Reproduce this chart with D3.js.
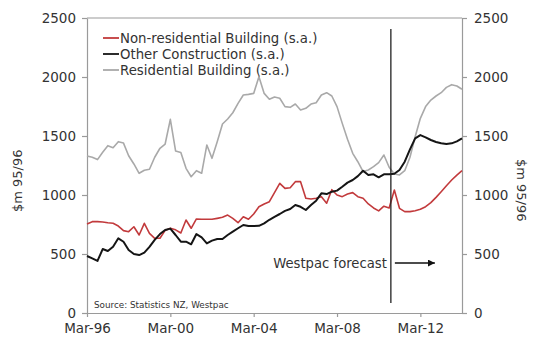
<!DOCTYPE html>
<html>
<head>
<meta charset="utf-8">
<script src="https://cdn.jsdelivr.net/npm/d3@7"></script>
<style>
  body { margin: 0; background: #fff; }
  svg { display: block; }
  text { font-family: "DejaVu Sans", sans-serif; fill: #333; }
</style>
</head>
<body>
<svg id="chart" width="535" height="338"></svg>
<script>
// Quarterly series, Mar-96 .. Mar-14, $m 95/96 (seasonally adjusted)
const firstQuarter = new Date(1996, 2, 1);
const axisStart = new Date(1996, 2, 1);
const axisEnd = new Date(2014, 2, 1);
const forecastStart = new Date(2010, 9, 1);

const nonResidential = [
  755, 774, 774, 771, 765, 760, 737, 698, 689, 731,
  661, 760, 675, 633, 633, 700, 718, 705, 678, 788,
  718, 797, 794, 794, 794, 802, 811, 830, 802, 765,
  816, 794, 839, 901, 924, 943, 1020, 1099, 1056, 1062,
  1113, 1113, 972, 966, 972, 986, 930, 1045, 1000, 986,
  1008, 1020, 986, 972, 924, 890, 865, 905, 890, 1042,
  887, 859, 859, 867, 879, 901, 935, 980, 1028, 1079,
  1127, 1169, 1206
];
const otherConstruction = [
  483, 463, 441, 542, 525, 562, 633, 604, 534, 500,
  491, 511, 560, 620, 669, 703, 715, 661, 604, 604,
  582, 669, 641, 590, 613, 627, 627, 661, 689, 718,
  746, 737, 737, 739, 760, 790, 815, 839, 865, 881,
  915, 900, 873, 915, 952, 1014, 1008, 1028, 1037, 1070,
  1105, 1127, 1160, 1205, 1169, 1175, 1150, 1175, 1175, 1180,
  1212, 1282, 1387, 1480, 1508, 1489, 1466, 1449, 1438, 1432,
  1438, 1455, 1480
];
const residential = [
  1330, 1320, 1300, 1362, 1418, 1400, 1452, 1440, 1333, 1263,
  1184, 1210, 1218, 1320, 1396, 1432, 1641, 1373, 1360, 1226,
  1155, 1206, 1184, 1424, 1311, 1452, 1602, 1644, 1697, 1777,
  1847, 1853, 1861, 2003, 1861, 1811, 1830, 1820, 1749, 1743,
  1771, 1720, 1735, 1771, 1782, 1847, 1867, 1839, 1749, 1607,
  1472, 1353, 1282, 1198, 1212, 1240, 1274, 1339, 1235, 1178,
  1170, 1206, 1320, 1494, 1650, 1749, 1805, 1839, 1867, 1912,
  1935, 1924, 1896
];

const seriesNames = [
  "Non-residential Building (s.a.)",
  "Other Construction (s.a.)",
  "Residential Building (s.a.)"
];
const seriesColors = ["#c23a3c", "#151515", "#a9a9a9"];
const seriesWidths = [1.6, 2, 1.6];

const yTicks = [0, 500, 1000, 1500, 2000, 2500];
const xTickLabels = ["Mar-96", "Mar-00", "Mar-04", "Mar-08", "Mar-12"];
const axisTitle = "$m 95/96";
const sourceNote = "Source: Statistics NZ, Westpac";
const forecastNote = "Westpac forecast";

const W = 535, H = 338;
const margin = { top: 18, right: 73, bottom: 25, left: 87 };
const svg = d3.select("#chart");

const parseTick = d3.timeParse("%b-%y");
const quarterDates = residential.map((_, i) => d3.timeMonth.offset(firstQuarter, 3 * i));

const x = d3.scaleTime().domain([axisStart, axisEnd]).range([margin.left, W - margin.right]);
const y = d3.scaleLinear().domain([0, 2500]).range([H - margin.bottom, margin.top]);

const axisColor = "#9a9a9a";
const tickFont = "13.5px";

// frame top edge
svg.append("line")
  .attr("x1", margin.left).attr("x2", W - margin.right)
  .attr("y1", margin.top).attr("y2", margin.top)
  .attr("stroke", axisColor).attr("stroke-width", 1.2);

function styleAxis(g) {
  g.selectAll("path.domain").attr("stroke", axisColor).attr("stroke-width", 1.2);
  g.selectAll(".tick line").attr("stroke", axisColor).attr("stroke-width", 1.2);
  g.selectAll(".tick text").attr("fill", "#333")
    .style("font-family", '"DejaVu Sans", sans-serif').style("font-size", tickFont);
}

svg.append("g")
  .attr("transform", `translate(${margin.left},0)`)
  .call(d3.axisLeft(y).tickValues(yTicks).tickFormat(d3.format("d"))
    .tickSize(5).tickSizeOuter(0).tickPadding(6))
  .call(styleAxis);

svg.append("g")
  .attr("transform", `translate(${W - margin.right},0)`)
  .call(d3.axisRight(y).tickValues(yTicks).tickFormat(d3.format("d"))
    .tickSize(5).tickSizeOuter(0).tickPadding(7))
  .call(styleAxis);

svg.append("g")
  .attr("transform", `translate(0,${H - margin.bottom})`)
  .call(d3.axisBottom(x)
    .tickValues(xTickLabels.map(parseTick))
    .tickFormat(d3.timeFormat("%b-%y"))
    .tickSize(4).tickSizeOuter(0).tickPadding(6))
  .call(styleAxis);

// axis titles
svg.append("text")
  .attr("transform", `translate(22,${y(1120)}) rotate(-90)`)
  .attr("text-anchor", "middle")
  .style("font-size", "13px")
  .text(axisTitle);
svg.append("text")
  .attr("transform", `translate(517,${y(1040)}) rotate(90)`)
  .attr("text-anchor", "middle")
  .style("font-size", "13px")
  .text(axisTitle);

// series
const allSeries = [nonResidential, otherConstruction, residential];
const line = d3.line()
  .x((d, i) => x(quarterDates[i]))
  .y(d => y(d));

// grey underneath, then red, then black on top
[2, 0, 1].forEach(k => {
  svg.append("path")
    .datum(allSeries[k])
    .attr("fill", "none")
    .attr("stroke", seriesColors[k])
    .attr("stroke-width", seriesWidths[k])
    .attr("stroke-linejoin", "round")
    .attr("d", line);
});

// forecast divider and note
const fx = x(forecastStart);
svg.append("line")
  .attr("x1", fx).attr("x2", fx)
  .attr("y1", 29).attr("y2", 303)
  .attr("stroke", "#222").attr("stroke-width", 1.3);

svg.append("text")
  .attr("x", fx - 4).attr("y", 268)
  .attr("text-anchor", "end")
  .style("font-size", "13.2px")
  .text(forecastNote);

svg.append("defs").append("marker")
  .attr("id", "arrowhead")
  .attr("viewBox", "0 0 10 10")
  .attr("refX", 10).attr("refY", 5)
  .attr("markerWidth", 7).attr("markerHeight", 7)
  .attr("markerUnits", "userSpaceOnUse")
  .attr("orient", "auto")
  .append("path").attr("d", "M0,0 L10,5 L0,10 Z").attr("fill", "#111");

svg.append("line")
  .attr("x1", fx + 4).attr("x2", fx + 44)
  .attr("y1", 263).attr("y2", 263)
  .attr("stroke", "#111").attr("stroke-width", 1.4)
  .attr("marker-end", "url(#arrowhead)");

// source
svg.append("text")
  .attr("x", 94).attr("y", 308)
  .style("font-size", "8.8px")
  .text(sourceNote);

// legend
const legend = svg.append("g");
seriesNames.forEach((name, k) => {
  const ly = 38 + k * 16;
  legend.append("line")
    .attr("x1", 103).attr("x2", 119)
    .attr("y1", ly).attr("y2", ly)
    .attr("stroke", seriesColors[k]).attr("stroke-width", 1.8);
  legend.append("text")
    .attr("x", 120).attr("y", ly).attr("dy", "0.36em")
    .style("font-size", "13.3px")
    .text(name);
});
</script>
</body>
</html>
